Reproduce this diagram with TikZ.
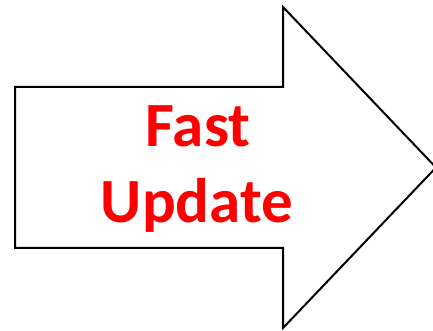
\documentclass[tikz,border=0pt]{standalone}
\usepackage{fontspec}
\setmainfont{Carlito}
\definecolor{txtred}{RGB}{255,0,0}
\tikzset{
  arrowshape/.style={draw=black, line width=2pt, fill=white, line join=miter},
  label/.style={font=\fontsize{63}{76}\selectfont\bfseries, text=txtred, inner sep=0pt, anchor=base}
}
\begin{document}
\begin{tikzpicture}[x=1pt,y=1pt]
\useasboundingbox (0,0) rectangle (433,331);
\draw[arrowshape] (15,331-87) -- (283,331-87) -- (283,331-7) -- (436,331-167.5)
  -- (283,331-328) -- (283,331-248) -- (15,331-248) -- cycle;
\node[label] (fast) at (198,331-147) {Fast};
\node[label] (update) at (197,331-223) {Update};
\end{tikzpicture}
\end{document}
